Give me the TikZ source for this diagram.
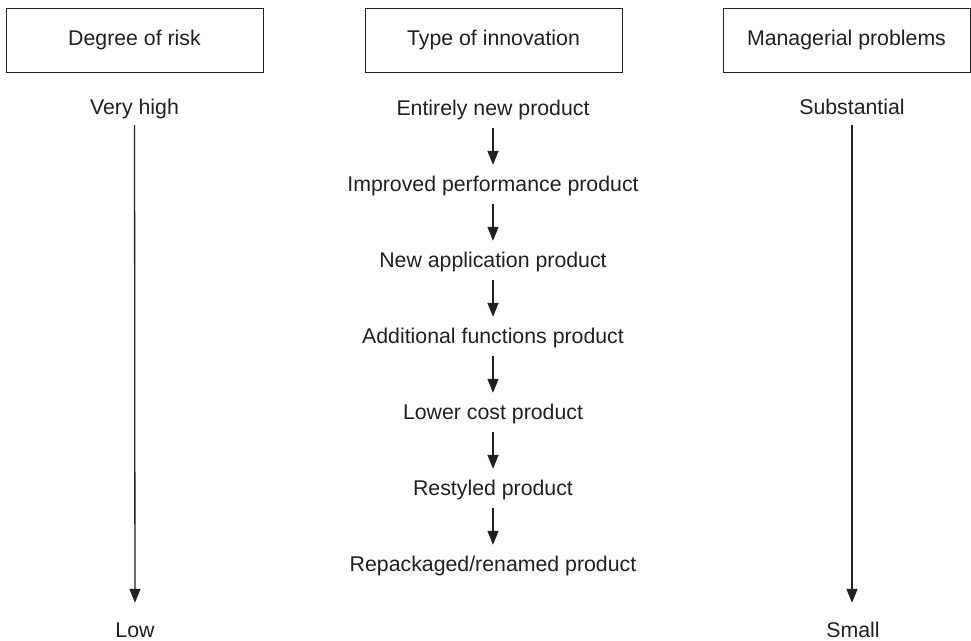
\documentclass[tikz,border=0pt]{standalone}
\usepackage{fontspec}
\setmainfont{Liberation Sans}
\usetikzlibrary{positioning, arrows.meta}
\definecolor{ink}{HTML}{231F20}
\tikzstyle{Arrow} = [
line width=1.3pt, draw=ink,
-{Triangle[length=14pt, width=11pt]},
shorten <= 5pt, shorten >= 8pt]
\tikzstyle{LongArrow} = [Arrow, shorten <= 3pt, shorten >= 15.5pt]
\tikzstyle{Head} = [draw=ink, line width=0.8pt,
minimum width=257pt, minimum height=64pt]
\tikzstyle{Label} = [text height=15.5pt, text depth=4.5pt, inner sep=3pt]

\begin{document}
\begin{tikzpicture}[x=1pt, y=-1pt, node distance=76pt, on grid,
    every node/.style={font=\fontsize{21.3}{25}\selectfont, text=ink}]
    \useasboundingbox (0,0) rectangle (971,640);
    % column headings
    \node [Head] (risk) at (134.5,40) {Degree of risk};
    \node [Head] (type) at (493.5,40) {Type of innovation};
    \node [Head, minimum width=247pt] (mgmt) at (846.5,40) {Managerial problems};
    % risk scale
    \node [Label] (high) at (134.5,109) {Very high};
    \node [Label] (low) at (135,631.5) {Low};
    % innovation types
    \node [Label] (1) at (493,110) {Entirely new product};
    \node [Label, below =of 1] (2) {Improved performance product};
    \node [Label, below =of 2] (3) {New application product};
    \node [Label, below =of 3] (4) {Additional functions product};
    \node [Label, below =of 4] (5) {Lower cost product};
    \node [Label, below =of 5] (6) {Restyled product};
    \node [Label, below =of 6] (7) {Repackaged/renamed product};
    % problems scale
    \node [Label] (subst) at (852,109) {Substantial};
    \node [Label] (small) at (853,631.5) {Small};
    \draw[LongArrow] (high) to (low);
    \draw[Arrow] (1) to (2);
    \draw[Arrow] (2) to (3);
    \draw[Arrow] (3) to (4);
    \draw[Arrow] (4) to (5);
    \draw[Arrow] (5) to (6);
    \draw[Arrow] (6) to (7);
    \draw[LongArrow] (subst.south) to (subst.south |- small.north);
\end{tikzpicture}
\end{document}
